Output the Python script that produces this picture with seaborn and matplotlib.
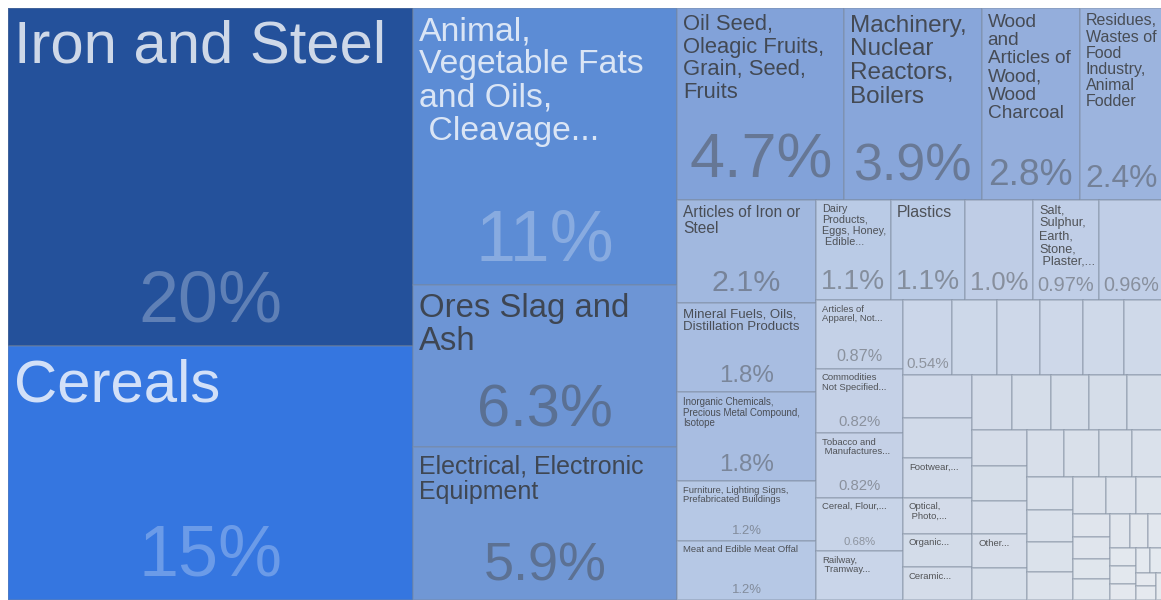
import numpy as np
import matplotlib
matplotlib.use("Agg")
import matplotlib.pyplot as plt
from matplotlib.colors import to_rgb, to_rgba
from matplotlib.patches import Rectangle
import seaborn as sns

# share of exports (%), largest first; labels as shown in the tiles
categories = [
    "Iron and Steel", "Cereals",
    "Animal,\nVegetable Fats\nand Oils,\n Cleavage...",
    "Ores Slag and\nAsh",
    "Electrical, Electronic\nEquipment",
    "Oil Seed,\nOleagic Fruits,\nGrain, Seed,\nFruits",
    "Machinery,\nNuclear\nReactors,\nBoilers",
    "Wood\nand\nArticles of\nWood,\nWood\nCharcoal",
    "Residues,\nWastes of\nFood\nIndustry,\nAnimal\nFodder",
    "Articles of Iron or\nSteel",
    "Mineral Fuels, Oils,\nDistillation Products",
    "Inorganic Chemicals,\nPrecious Metal Compound,\nIsotope",
    "Furniture, Lighting Signs,\nPrefabricated Buildings",
    "Meat and Edible Meat Offal",
    "Dairy\nProducts,\nEggs, Honey,\n Edible...",
    "Plastics",
    "",
    "Salt,\nSulphur,\nEarth,\nStone,\n Plaster,...",
    "",
    "Articles of\nApparel, Not...",
    "Commodities\nNot Specified...",
    "Tobacco and\n Manufactures...",
    "Cereal, Flour,...",
    "Railway,\n Tramway...",
]
shares = [20, 15, 10.7, 6.3, 5.9, 4.66, 3.851, 2.751, 2.351, 2.1, 1.8, 1.8,
          1.2, 1.2, 1.1, 1.1, 1.0, 0.97, 0.96, 0.87, 0.82, 0.82, 0.68, 0.62]

# the long tail of small products (mostly unlabeled tiles)
small_categories = [
    "", "", "", "", "", "",
    "", "", "Footwear,...", "Optical,\n Photo,...", "Organic...", "Ceramic...",
    "", "", "", "", "",
    "", "", "", "Other...", "",
] + [""] * 26
small_shares = [0.54, 0.49, 0.47, 0.47, 0.45, 0.44,
                0.43, 0.41, 0.40, 0.36, 0.34, 0.33,
                0.32, 0.31, 0.31, 0.30, 0.30,
                0.29, 0.28, 0.27, 0.27, 0.26,
                0.25, 0.24, 0.23, 0.22,
                0.22, 0.21, 0.20, 0.19,
                0.18, 0.16, 0.15,
                0.12, 0.12, 0.11, 0.11,
                0.10, 0.09, 0.08, 0.07, 0.07, 0.06, 0.05, 0.05, 0.04, 0.04, 0.03]

# colour ramp: share -> tile colour
shade_at = [0.0, 0.1, 0.3, 0.55, 0.9, 1.2, 2.0, 3.0, 4.7, 6.0, 11, 15, 20]
shade_colors = ["#e8ebf0", "#e1e6ed", "#d5dde9", "#cbd6e9", "#c3d0e7", "#b6c8e5",
                "#a3b9df", "#8faadb", "#82a2d9", "#6e96d5", "#5b8bd5", "#3576e0",
                "#24519b"]

DPI = 100
PT = 72 / DPI
FONT = ["Liberation Sans", "DejaVu Sans"]
EDGE = to_rgba("#7a8799", 0.45)


def shade(v):
    rgb = np.array([to_rgb(c) for c in shade_colors])
    return tuple(np.interp(v, shade_at, rgb[:, k]) for k in range(3))


def squarify(vals, x0, y0, x1, y1, ratio=(1 + 5 ** 0.5) / 2):
    # d3.treemapSquarify
    rects = []
    n = len(vals)
    remaining = float(sum(vals))
    i0 = i1 = 0
    while i0 < n:
        dx, dy = x1 - x0, y1 - y0
        row_sum = vals[i1]
        i1 += 1
        lo = hi = row_sum
        alpha = max(dy / dx, dx / dy) / (remaining * ratio)
        beta = row_sum * row_sum * alpha
        best = max(hi / beta, beta / lo)
        while i1 < n:
            v = vals[i1]
            s = row_sum + v
            beta = s * s * alpha
            r = max(max(hi, v) / beta, beta / min(lo, v))
            if r > best:
                break
            row_sum, lo, hi, best = s, min(lo, v), max(hi, v), r
            i1 += 1
        row = vals[i0:i1]
        if dx < dy:
            yb = y0 + dy * row_sum / remaining if i1 < n else y1
            cx = x0
            for v in row:
                w = dx * v / row_sum
                rects.append((cx, y0, w, yb - y0))
                cx += w
            y0 = yb
        else:
            xb = x0 + dx * row_sum / remaining if i1 < n else x1
            cy = y0
            for v in row:
                h = dy * v / row_sum
                rects.append((x0, cy, xb - x0, h))
                cy += h
            x0 = xb
        remaining -= row_sum
        i0 = i1
    return rects


def fmt(v):
    if v >= 10:
        return f"{v:.0f}%"
    if v >= 1:
        return f"{v:.1f}%"
    return f"{v:.2f}%"


sns.set_theme(style="white")
plt.rcParams["font.family"] = FONT

W, H = 1156, 592
fig = plt.figure(figsize=(11.61, 6.0), dpi=DPI)
ax = fig.add_axes([8 / 1161, 0, W / 1161, H / 600])
ax.set_xlim(0, W)
ax.set_ylim(H, 0)
ax.axis("off")
renderer = fig.canvas.get_renderer()


def block_size(s):
    t = ax.text(0, 0, s, fontsize=100 * PT, family=FONT, linespacing=1.1)
    bb = t.get_window_extent(renderer)
    t.remove()
    return bb.width / 100, bb.height / 100


names = categories + small_categories
vals = shares + small_shares
rects = squarify(vals, 0, 0, W, H)

for (x, y, w, h), name, v in zip(rects, names, vals):
    face = shade(v)
    ax.add_patch(Rectangle((x, y), w, h, facecolor=face, edgecolor=EDGE, linewidth=1.1))
    lum = 255 * (0.299 * face[0] + 0.587 * face[1] + 0.114 * face[2])
    if lum < 138:
        name_color, pct_color = (1, 1, 1, 0.78), (1, 1, 1, 0.27)
    else:
        name_color, pct_color = to_rgba("#333333", 0.8), to_rgba("#444444", 0.45)
    if name:
        lw1, lh1 = block_size(name)
        fit = 0.92 if "\n" not in name else 0.85
        fl = min(60, fit * w / lw1, 0.0158 * h ** 1.5, 0.7 * h / lh1)
        fl = max(fl, 9.5)
        ax.text(x + 6, y + 3 + 0.15 * fl, name, fontsize=fl * PT, ha="left", va="top",
                color=name_color, linespacing=1.1)
    if v >= 0.5 and h >= 52:
        pct = fmt(v)
        pw1, _ = block_size(pct)
        fp = min(72, 0.86 * w / pw1, 0.0287 * h ** 1.5)
        ax.text(x + w / 2, y + h - (0.3 * fp + 3), pct, fontsize=fp * PT,
                ha="center", va="baseline", color=pct_color)

fig.savefig("out.png", dpi=DPI)
